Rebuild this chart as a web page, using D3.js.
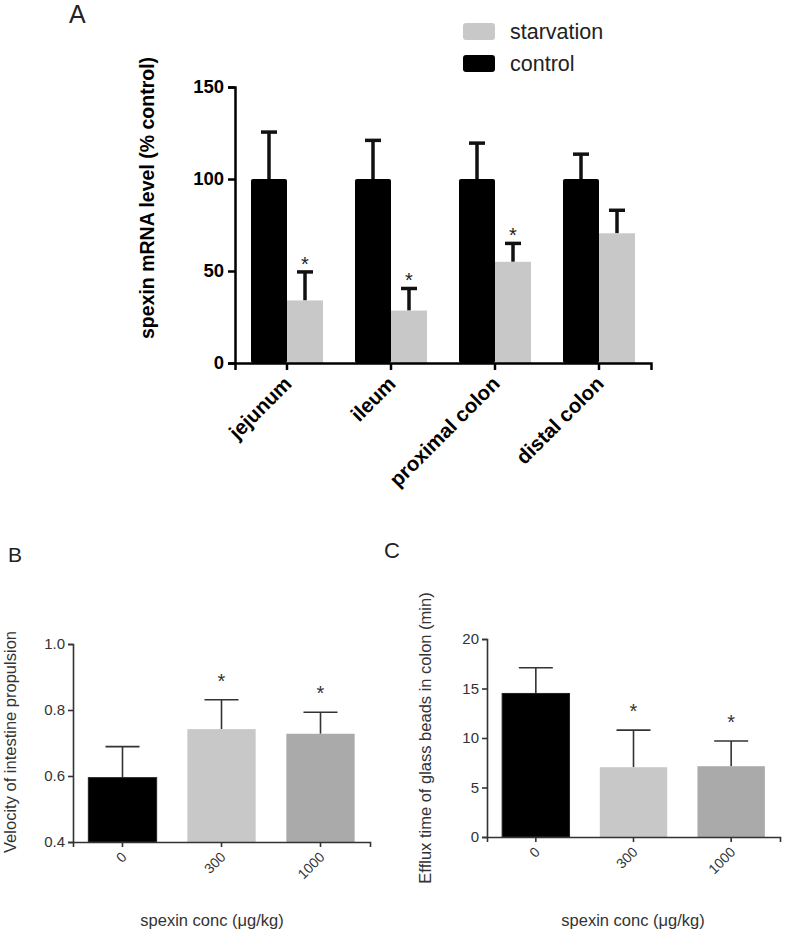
<!DOCTYPE html>
<html><head><meta charset="utf-8">
<script src="https://cdn.jsdelivr.net/npm/d3@7"></script>
<style>body{margin:0;background:#fff}svg{display:block;font-family:Arial,"Liberation Sans",sans-serif}</style>
</head><body>
<svg id="c" width="787" height="934"></svg>
<script>
// Panel A data
const catsA = ["jejunum", "ileum", "proximal colon", "distal colon"];
const seriesA = ["control", "starvation"];
const controlMean = [100, 100, 100, 100];
const controlErr = [25.5, 21, 19.5, 13.5];
const starvMean = [34, 28.5, 55, 70.5];
const starvErr = [15.5, 12, 10, 12.5];
const starvSig = [true, true, true, false];
const ticksA = [0, 50, 100, 150];

// Panel B data
const concs = ["0", "300", "1000"];
const velMean = [0.595, 0.742, 0.728];
const velErr = [0.094, 0.089, 0.065];
const velSig = [false, true, true];
const ticksB = [0.4, 0.6, 0.8, 1.0];

// Panel C data
const effMean = [14.5, 7.05, 7.15];
const effErr = [2.6, 3.75, 2.55];
const effSig = [false, true, true];
const ticksC = [0, 5, 10, 15, 20];

const svg = d3.select("#c");
const FF = "Arial, Liberation Sans, sans-serif";

// ---------- Panel A ----------
(function(){
  const g = svg.append("g");
  const x = d3.scaleBand().domain(catsA).range([235, 651]).paddingInner(32/104).paddingOuter(16/104);
  const xs = d3.scaleBand().domain(seriesA).range([0, x.bandwidth()]);
  const y = d3.scaleLinear().domain([0, 150]).range([363, 87]);
  const color = {control: "#000", starvation: "#c8c8c8"};
  const rows = catsA.map((c, i) => ({c, i, control: controlMean[i], starvation: starvMean[i],
    errs: {control: controlErr[i], starvation: starvErr[i]}}));
  rows.forEach(r => seriesA.forEach(s => {
    const cx = x(r.c) + xs(s) + xs.bandwidth()/2;
    const top = r[s] + r.errs[s];
    g.append("line").attr("x1", cx).attr("x2", cx).attr("y1", y(r[s])).attr("y2", y(top)).attr("stroke", "#111").attr("stroke-width", 3.5);
    g.append("line").attr("x1", cx-8).attr("x2", cx+8).attr("y1", y(top)).attr("y2", y(top)).attr("stroke", "#111").attr("stroke-width", 3.5);
    if (s === "starvation" && starvSig[r.i]) {
      g.append("text").attr("x", cx).attr("y", y(top) - 1).attr("text-anchor", "middle").attr("font-size", 20).attr("fill", "#222").text("*");
    }
  }));
  rows.forEach(r => seriesA.forEach(s => {
    g.append("rect").attr("x", x(r.c) + xs(s)).attr("y", y(r[s])).attr("width", xs.bandwidth()).attr("height", y(0) - y(r[s]))
      .attr("fill", color[s]).attr("rx", s === "control" ? 2 : 0);
  }));
  const ya = g.append("g").attr("transform", "translate(235,0)").call(d3.axisLeft(y).tickValues(ticksA).tickSize(7).tickPadding(4));
  ya.selectAll("text").attr("font-size", 18.5).attr("font-weight", "bold").attr("fill", "#000").attr("font-family", FF);
  const xa = g.append("g").attr("transform", "translate(0,363)").call(d3.axisBottom(x).tickSize(7).tickPadding(0));
  xa.selectAll("text").attr("font-size", 20.5).attr("font-weight", "bold").attr("fill", "#000").attr("font-family", FF)
    .attr("text-anchor", "end").attr("dy", 0).attr("y", 0).attr("transform", "translate(6,22) rotate(-45)");
  [ya, xa].forEach(a => { a.select(".domain").attr("stroke-width", 2.5).attr("stroke", "#000"); a.selectAll(".tick line").attr("stroke-width", 2.5).attr("stroke", "#000"); });
  g.append("text").attr("transform", "translate(154,198) rotate(-90)").attr("text-anchor", "middle").attr("font-size", 19.5).attr("font-weight", "bold").text("spexin mRNA level (% control)");
  g.append("text").attr("x", 69).attr("y", 23).attr("font-size", 25).attr("fill", "#222").text("A");
  const leg = [["starvation", "#c8c8c8", 23], ["control", "#000", 55]];
  leg.forEach(([t, c, yy]) => {
    g.append("rect").attr("x", 463).attr("y", yy).attr("width", 32).attr("height", 17).attr("rx", 3).attr("fill", c);
    g.append("text").attr("x", 510).attr("y", yy + 16).attr("font-size", 21.5).attr("fill", "#222").text(t);
  });
})();

// ---------- Panels B & C ----------
function smallPanel(opts){
  const g = svg.append("g");
  const x = d3.scaleBand().domain(concs).range(opts.xr).paddingInner(0.31).paddingOuter(0.155);
  const y = d3.scaleLinear().domain(opts.dom).range(opts.yr);
  const fills = ["#000", "#c8c8c8", "#aaaaaa"];
  concs.forEach((c, i) => {
    const cx = x(c) + x.bandwidth()/2;
    const top = opts.mean[i] + opts.err[i];
    g.append("line").attr("x1", cx).attr("x2", cx).attr("y1", y(opts.mean[i])).attr("y2", y(top)).attr("stroke", "#333").attr("stroke-width", 1.6);
    g.append("line").attr("x1", cx-17).attr("x2", cx+17).attr("y1", y(top)).attr("y2", y(top)).attr("stroke", "#333").attr("stroke-width", 1.6);
    if (opts.sig[i]) g.append("text").attr("x", cx).attr("y", y(top) - 12).attr("text-anchor", "middle").attr("font-size", 20).attr("fill", "#333").text("*");
    g.append("rect").attr("x", x(c)).attr("y", y(opts.mean[i])).attr("width", x.bandwidth()).attr("height", opts.yr[0] - y(opts.mean[i]))
      .attr("fill", fills[i]).attr("stroke", i === 0 ? "#222" : "none").attr("stroke-width", 1);
  });
  const ya = g.append("g").attr("transform", `translate(${opts.xr[0]},0)`).call(d3.axisLeft(y).tickValues(opts.ticks).tickSize(5).tickPadding(3).tickFormat(opts.fmt));
  ya.selectAll("text").attr("font-size", 15).attr("fill", "#333").attr("font-family", FF);
  const xa = g.append("g").attr("transform", `translate(0,${opts.yr[0]})`).call(d3.axisBottom(x).tickSize(5).tickPadding(0));
  xa.selectAll("text").attr("font-size", 14).attr("fill", "#333").attr("font-family", FF)
    .attr("text-anchor", "end").attr("dy", 0).attr("y", 0).attr("transform", "translate(5,16) rotate(-45)");
  [ya, xa].forEach(a => { a.select(".domain").attr("stroke-width", 1.6).attr("stroke", "#333"); a.selectAll(".tick line").attr("stroke-width", 1.6).attr("stroke", "#333"); });
  g.append("text").attr("transform", `translate(${opts.ylx},${opts.yly}) rotate(-90)`).attr("text-anchor", "middle").attr("font-size", 16.5).attr("fill", "#333").text(opts.ylabel);
  g.append("text").attr("x", opts.xtx).attr("y", 926).attr("text-anchor", "middle").attr("font-size", 16.5).attr("fill", "#333").text("spexin conc (μg/kg)");
  g.append("text").attr("x", opts.lx).attr("y", opts.ly).attr("font-size", opts.ls).attr("fill", "#222").text(opts.letter);
}
smallPanel({xr:[73, 370], yr:[842, 644], dom:[0.4, 1.0], ticks: ticksB, fmt: d3.format(".1f"), mean: velMean, err: velErr, sig: velSig,
  ylabel: "Velocity of intestine propulsion", ylx: 16, yly: 742, xtx: 212, letter: "B", lx: 8, ly: 562, ls: 21});
smallPanel({xr:[487, 780], yr:[837, 639], dom:[0, 20], ticks: ticksC, fmt: d3.format("d"), mean: effMean, err: effErr, sig: effSig,
  ylabel: "Efflux time of glass beads in colon (min)", ylx: 431, yly: 738, xtx: 633, letter: "C", lx: 384, ly: 558, ls: 22});
</script>
</body></html>
